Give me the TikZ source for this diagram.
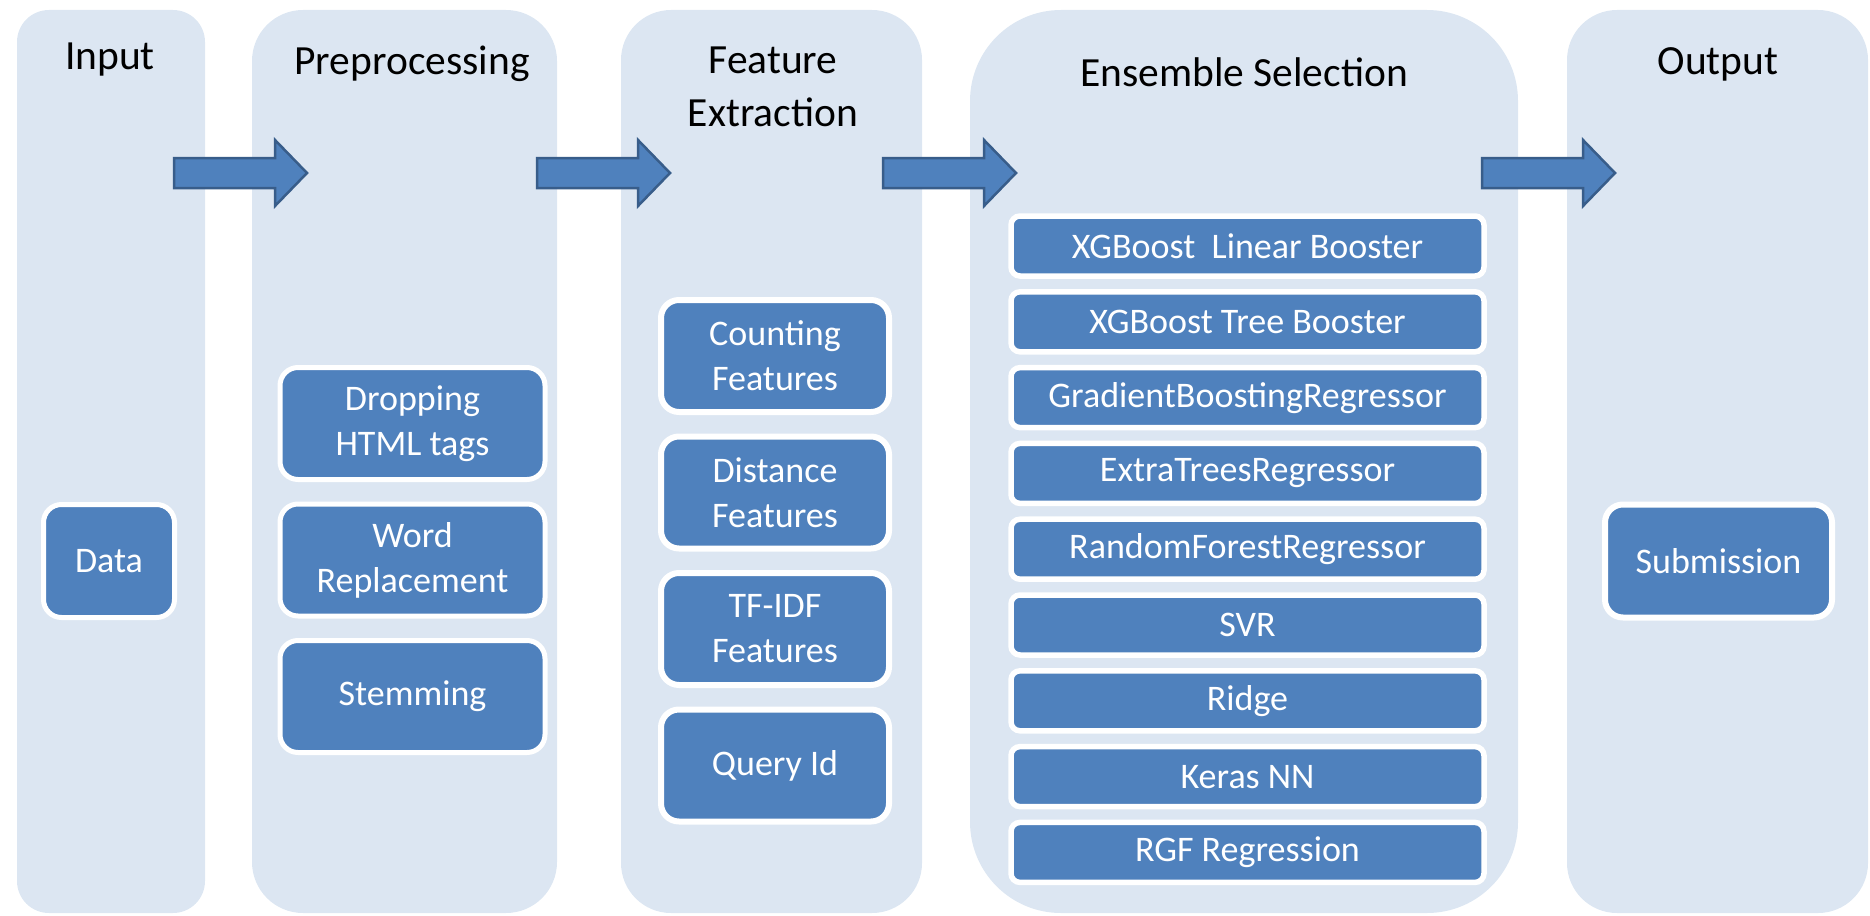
\documentclass[tikz,border=0pt]{standalone}
\usepackage{fontspec}
\setmainfont{Carlito}
\usetikzlibrary{positioning}
\definecolor{laneblue}{HTML}{DCE6F2}
\definecolor{boxblue}{HTML}{4F81BD}
\definecolor{arrowedge}{HTML}{385D8A}

\begin{document}
\begin{tikzpicture}[x=1pt, y=-1pt,
    lane/.style={rectangle, fill=laneblue, inner sep=0pt, minimum height=903pt},
    title/.style={anchor=base, align=center, inner sep=0pt, font=\fontsize{41.5}{53}\selectfont},
    item/.style={rectangle, fill=boxblue, draw=white, line width=5pt, text=white, align=center,
      inner sep=0pt, outer sep=0pt, rounded corners=18pt, font=\fontsize{36}{45}\selectfont},
    model/.style={item, minimum width=473pt, minimum height=60pt, rounded corners=9pt, line width=5.5pt},
    bigarrow/.style={fill=boxblue, draw=arrowedge, line width=2.5pt, line join=miter}
  ]
    \useasboundingbox (0,0) rectangle (1870,915);

    % stages
    \node[lane, minimum width=188pt, rounded corners=32pt] (input) at (111,461.5) {};
    \node[lane, minimum width=305pt, rounded corners=51pt] (prep) at (404.5,461.5) {};
    \node[lane, minimum width=301pt, rounded corners=50pt] (feat) at (771.5,461.5) {};
    \node[lane, minimum width=548pt, rounded corners=91pt] (ens) at (1244,461.5) {};
    \node[lane, minimum width=301pt, rounded corners=50pt] (out) at (1717.5,461.5) {};

    \node[title] (inputtitle) at (110,70) {Input};
    \node[title] (preptitle) at (412,75) {Preprocessing};
    \node[title, anchor=north] (feattitle) at (773,46.5) {Feature\\Extraction};
    \node[title] (enstitle) at (1244,87) {Ensemble Selection};
    \node[title] (outtitle) at (1718,75) {Output};

    % block arrows between stages
    \foreach \s in {174,537,883,1482}
      \draw[bigarrow] (\s,158) -- (\s+101,158) -- (\s+101,140) -- (\s+133,173)
        -- (\s+101,206) -- (\s+101,188) -- (\s,188) -- cycle;

    % input
    \node[item, minimum width=131pt, minimum height=113pt] (data) at (109,561) {Data};

    % preprocessing
    \node[item, minimum width=265pt, minimum height=112pt] (drop) at (412.5,423.5) {Dropping\\HTML tags};
    \node[item, minimum width=265pt, minimum height=112pt, below=24.5pt of drop] (word) {Word\\Replacement};
    \node[item, minimum width=265pt, minimum height=112pt, below=24.5pt of word] (stem) {Stemming};

    % features
    \node[item, minimum width=228pt, minimum height=112pt, line width=6pt] (count) at (775,356) {Counting\\Features};
    \node[item, minimum width=228pt, minimum height=112pt, line width=6pt, below=24.5pt of count] (dist) {Distance\\Features};
    \node[item, minimum width=228pt, minimum height=112pt, line width=6pt, below=24.5pt of dist] (tfidf) {TF-IDF\\Features};
    \node[item, minimum width=228pt, minimum height=112pt, line width=6pt, below=24.5pt of tfidf] (query) {Query Id};

    % models
    \foreach \name [count=\i from 0] in {XGBoost\ \ Linear Booster, XGBoost Tree Booster,
        GradientBoostingRegressor, ExtraTreesRegressor, RandomForestRegressor,
        SVR, Ridge, Keras NN, RGF Regression}
      \node[model] (m\i) at (1247.5,246+75.8*\i) {\name};

    % output
    \node[item, minimum width=227pt, minimum height=113pt, line width=6pt] (sub) at (1718.5,561) {Submission};
  \end{tikzpicture}
\end{document}
